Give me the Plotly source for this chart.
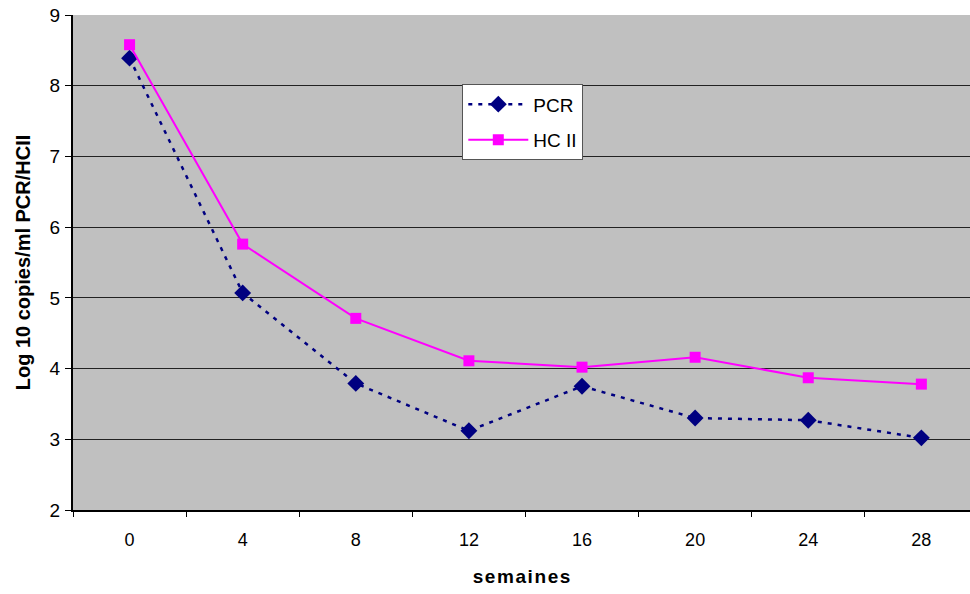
import plotly.graph_objects as go

weeks = ["0", "4", "8", "12", "16", "20", "24", "28"]
pcr = [8.39, 5.07, 3.79, 3.12, 3.75, 3.30, 3.27, 3.02]
hcii = [8.58, 5.76, 4.71, 4.11, 4.02, 4.16, 3.87, 3.78]

fig = go.Figure()
fig.add_trace(go.Scatter(
    x=weeks, y=pcr, name="PCR", mode="lines+markers", legendgroup="a",
    line=dict(color="#000080", width=2.5, dash="4px,6px"),
    marker=dict(symbol="diamond", size=13, color="#000080"),
))
fig.add_trace(go.Scatter(
    x=weeks, y=hcii, name="HC II", mode="lines+markers", legendgroup="b",
    line=dict(color="#FF00FF", width=2),
    marker=dict(symbol="square", size=11, color="#FF00FF"),
))

font_family = "Liberation Sans, Arial, sans-serif"
fig.update_layout(
    width=970, height=594,
    margin=dict(l=73, r=0, t=15, b=84),
    paper_bgcolor="white", plot_bgcolor="#C0C0C0",
    font=dict(family=font_family, color="black", size=18),
    showlegend=True,
    legend=dict(
        x=0.434, y=0.86, xanchor="left", yanchor="top",
        bgcolor="white", bordercolor="#555555", borderwidth=1,
        font=dict(size=19), itemwidth=60, tracegroupgap=8,
    ),
    xaxis=dict(
        type="category", range=[-0.5, 7.43],
        showgrid=False, showline=True, linecolor="black", linewidth=2,
        ticks="outside", ticklen=5, tickcolor="black", tickson="boundaries",
        tickfont=dict(size=18), ticklabelstandoff=12,
        title=dict(text="<b>s e m a i n e s</b>".replace(" ", "\u200a"), font=dict(size=19), standoff=21),
        zeroline=False,
    ),
    yaxis=dict(
        range=[2, 9], dtick=1, tick0=2,
        showgrid=True, gridcolor="#222222", gridwidth=1,
        showline=True, linecolor="black", linewidth=2,
        ticks="outside", ticklen=6, tickcolor="black",
        tickfont=dict(size=19), ticklabelstandoff=1,
        title=dict(text="<b>Log 10 copies/ml PCR/HCII</b>", font=dict(size=20), standoff=14),
        zeroline=False,
    ),
)

fig.write_html("out.html")
